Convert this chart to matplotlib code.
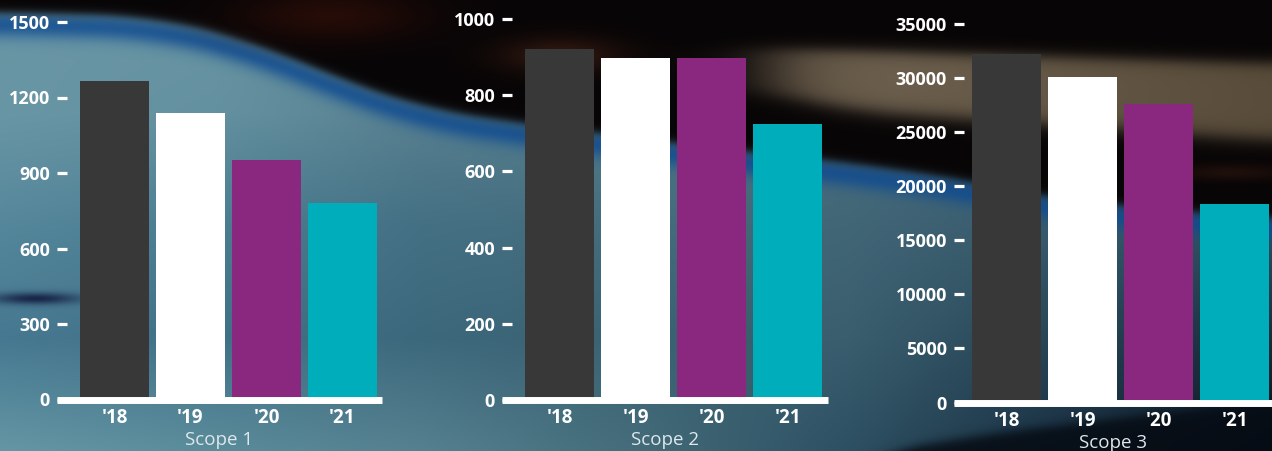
import numpy as np
import matplotlib.pyplot as plt

# emissions per year, one panel per scope
years = ["'18", "'19", "'20", "'21"]
scope1 = [1265, 1137, 950, 780]
scope2 = [920, 897, 897, 724]
scope3 = [32250, 30130, 27630, 18390]
ticks1 = [0, 300, 600, 900, 1200, 1500]
ticks2 = [0, 200, 400, 600, 800, 1000]
ticks3 = [0, 5000, 10000, 15000, 20000, 25000, 30000, 35000]
bar_colors = ["#383838", "#ffffff", "#8a287f", "#00adbb"]

W, H = 1272, 451
FONT = ["Open Sans", "DejaVu Sans"]


def upsample(grid):
    # bilinear blow-up of a coarse colour grid to full canvas size
    grid = np.asarray(grid, dtype=float)
    rows, cols = grid.shape[:2]
    gx = np.linspace(0, W - 1, cols)
    gy = np.linspace(0, H - 1, rows)
    out = np.zeros((H, W, 3))
    for c in range(3):
        tmp = np.array([np.interp(np.arange(W), gx, grid[r, :, c]) for r in range(rows)])
        out[:, :, c] = np.array([np.interp(np.arange(H), gy, tmp[:, i]) for i in range(W)]).T
    return out


def smooth_curve(xs, ys, k=121):
    y = np.interp(np.arange(-(k // 2), W + k // 2), xs, ys)
    return np.convolve(y, np.ones(k) / k, mode="valid")[None, :]


def mix(img, alpha, color):
    return img * (1 - alpha[..., None]) + np.asarray(color, float) * alpha[..., None]


def blob(img, cx, cy, rx, ry, color, strength):
    yy, xx = np.mgrid[0:H, 0:W]
    a = strength * np.exp(-(((xx - cx) / rx) ** 2 + ((yy - cy) / ry) ** 2))
    return mix(img, a, color)


def make_background():
    base = upsample([
        [(105, 150, 165), (105, 148, 162), (95, 135, 150), (88, 128, 142), (80, 120, 138), (75, 112, 128), (70, 105, 120)],
        [(105, 150, 165), (100, 145, 160), (88, 128, 143), (82, 122, 137), (75, 112, 128), (68, 104, 120), (62, 98, 115)],
        [(85, 135, 155), (75, 125, 145), (68, 112, 132), (68, 108, 124), (65, 102, 118), (55, 90, 108), (45, 80, 98)],
        [(70, 120, 145), (65, 113, 135), (60, 104, 124), (58, 98, 114), (58, 94, 110), (38, 68, 86), (25, 45, 60)],
        [(100, 150, 165), (90, 140, 155), (85, 128, 143), (68, 108, 122), (45, 80, 98), (25, 48, 66), (8, 16, 24)],
    ])
    yy, xx = np.mgrid[0:H, 0:W]
    yb = smooth_curve([0, 150, 250, 330, 424, 500, 600, 700, 848, 970, 1050, 1272],
                      [12, 16, 40, 75, 108, 120, 133, 146, 162, 180, 198, 218])
    # saturated blue rim under the dark band
    rim = np.exp(-((yy - yb - 12) / 13.0) ** 2) * 0.8
    img = mix(base, rim, (15, 75, 145))
    # dark top
    img = mix(img, 1 / (1 + np.exp((yy - yb) / 2.5)), (8, 5, 6))
    # dark sweep in the lower right corner
    yc = smooth_curve([850, 900, 1000, 1100, 1272], [470, 448, 432, 420, 400], 61)
    img = mix(img, 0.9 / (1 + np.exp(-(yy - yc) / 3.0)), (6, 12, 20))
    # tan streak across the upper right
    t1 = smooth_curve([0, 760, 848, 1272], [48, 48, 50, 63])
    t2 = smooth_curve([0, 760, 848, 1272], [88, 90, 110, 140])
    band = 1 / (1 + np.exp(-(yy - t1) / 4.0)) * 1 / (1 + np.exp((yy - t2) / 5.0))
    band = band * (1 / (1 + np.exp(-(xx - 770) / 25.0)))
    tan = np.zeros((H, W, 3)) + np.array([118, 104, 84.0])
    tan[:, :, :] = tan - (np.clip((xx - 900) / 372, 0, 1) * 20)[..., None]
    img = img * (1 - 0.9 * band[..., None]) + tan * 0.9 * band[..., None]
    img = blob(img, 330, 15, 90, 25, (45, 14, 8), 0.8)
    img = blob(img, 560, 55, 60, 18, (65, 32, 20), 0.7)
    img = blob(img, 1230, 172, 60, 8, (45, 22, 14), 0.6)
    img = blob(img, 35, 298, 45, 6, (20, 30, 65), 0.9)
    return np.clip(img, 0, 255) / 255.0


fig = plt.figure(figsize=(W / 100, H / 100), dpi=100)
bg = fig.add_axes([0, 0, 1, 1])
bg.imshow(make_background(), extent=[0, W, H, 0], aspect="auto", interpolation="bilinear")
bg.axis("off")

# panel layout in pixels: left, right, y of zero, y of top tick, x-limits
panels = [
    (scope1, ticks1, "Scope 1", 57, 382, 399.5, 22, (-0.757, 3.52)),
    (scope2, ticks2, "Scope 2", 502, 828, 400, 19, (-0.757, 3.53)),
    (scope3, ticks3, "Scope 3", 954, 1272, 402.5, 24, (-0.69, 3.49)),
]

for values, ticks, title, left, right, y0, ytop, xlim in panels:
    ax = fig.add_axes([left / W, 1 - y0 / H, (right - left) / W, (y0 - ytop) / H])
    ax.patch.set_alpha(0)
    ax.bar(range(len(years)), values, width=69 / 76, color=bar_colors, zorder=1)
    ax.set_xlim(*xlim)
    ax.set_ylim(0, ticks[-1])
    for s in ["top", "right", "left"]:
        ax.spines[s].set_visible(False)
    ax.spines["bottom"].set_color("white")
    ax.spines["bottom"].set_linewidth(5)
    ax.spines["bottom"].set_capstyle("butt")
    ax.set_yticks(ticks)
    ax.set_yticklabels([str(t) for t in ticks], family=FONT, fontweight="bold",
                       fontsize=13, color="white")
    ax.tick_params(axis="y", direction="in", length=7, width=2.3, color="white", pad=5)
    ax.set_xticks(range(len(years)))
    ax.set_xticklabels(years, family=FONT, fontweight="bold", fontsize=13.5, color="white")
    ax.tick_params(axis="x", length=0, pad=6)
    ax.set_xlabel(title, family=FONT, fontsize=13.5, color="#dfe8ec", labelpad=2)

fig.savefig("out.png", dpi=100)
